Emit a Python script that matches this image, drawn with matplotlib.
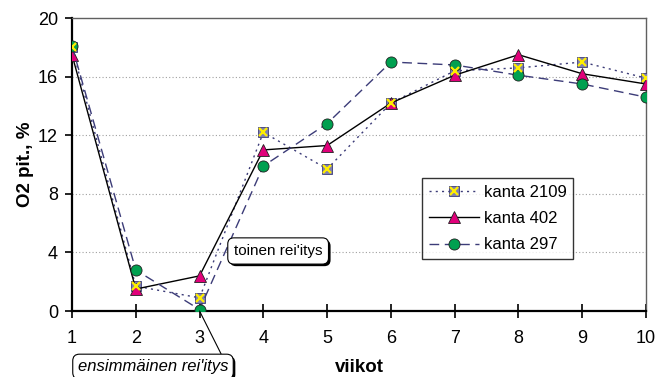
import matplotlib
matplotlib.use("Agg")
import matplotlib.pyplot as plt
from matplotlib.legend_handler import HandlerTuple
import matplotlib.patheffects as pe

plt.rcParams['font.family'] = ['Liberation Sans', 'DejaVu Sans']

# data
viikot = [1, 2, 3, 4, 5, 6, 7, 8, 9, 10]
kanta_2109 = [18.0, 1.7, 0.9, 12.2, 9.7, 14.2, 16.4, 16.6, 17.0, 15.9]
kanta_402 = [17.5, 1.5, 2.4, 11.0, 11.3, 14.2, 16.1, 17.5, 16.2, 15.5]
kanta_297 = [18.1, 2.8, 0.1, 9.9, 12.8, 17.0, 16.8, 16.1, 15.5, 14.6]
y_ticks = [0, 4, 8, 12, 16, 20]

navy = '#3c3c78'

fig = plt.figure(figsize=(6.57, 3.77), dpi=100)
ax = fig.add_axes([0.1096, 0.175, 0.8737, 0.777])

# pisteviiva-ruudukko
for yv in y_ticks[1:-1]:
    ax.axhline(yv, color='#a0a0a0', lw=0.8, ls=(0, (1, 2)), zorder=0)

l1, = ax.plot(viikot, kanta_2109, ls=(0, (1.5, 3)), color=navy, lw=1.0,
              marker='s', ms=7.5, mfc='#8080b0', mec=navy, mew=0.6, zorder=3)
x1, = ax.plot(viikot, kanta_2109, ls='none', marker='x', ms=6, mec='#ffee00',
              mew=1.6, zorder=4)
l2, = ax.plot(viikot, kanta_402, ls='-', color='black', lw=1.0,
              marker='^', ms=8, mfc='#e0007a', mec='#202020', mew=0.6, zorder=3)
l3, = ax.plot(viikot, kanta_297, ls=(0, (7, 4)), color=navy, lw=1.0,
              marker='o', ms=8, mfc='#00a050', mec='#202020', mew=0.6, zorder=3)

ax.set_xlim(1, 10)
ax.set_ylim(0, 20)
ax.set_xticks(viikot)
ax.set_yticks(y_ticks)
ax.tick_params(axis='x', direction='inout', length=10, width=1.2, labelsize=13, pad=9)
ax.tick_params(axis='y', direction='out', length=5, width=1.2, labelsize=13, pad=5)

for s in ['left', 'bottom']:
    ax.spines[s].set_linewidth(1.6)
    ax.spines[s].set_color('black')
for s in ['top', 'right']:
    ax.spines[s].set_linewidth(1.0)
    ax.spines[s].set_color('#606060')

ax.set_ylabel('O2 pit., %', fontsize=13.5, fontweight='bold', labelpad=3)
ax.set_xlabel('viikot', fontsize=13.5, fontweight='bold', labelpad=8)

leg = ax.legend([(l1, x1), l2, l3], ['kanta 2109', 'kanta 402', 'kanta 297'],
                handler_map={tuple: HandlerTuple(ndivide=1)},
                loc='upper left', bbox_to_anchor=(0.61, 0.454),
                fontsize=12, frameon=True, fancybox=False, edgecolor='black',
                handlelength=3.0, handletextpad=0.3, labelspacing=0.68,
                borderpad=0.4, borderaxespad=0)
leg.get_frame().set_linewidth(1.0)

shadow = [pe.SimplePatchShadow(offset=(1.5, -1.5), shadow_rgbFace='black', alpha=1.0), pe.Normal()]

t1 = ax.annotate("toinen rei'itys", xy=(0.282, 0.205), xycoords='axes fraction',
                 fontsize=11, ha='left', va='center',
                 bbox=dict(boxstyle='round,pad=0.4,rounding_size=0.4',
                           fc='white', ec='black', lw=0.8))
t1.get_bbox_patch().set_path_effects(shadow)

t2 = ax.annotate("ensimmäinen rei'itys", xy=(3, 0), xycoords='data',
                 xytext=(0.01, -0.19), textcoords='axes fraction',
                 fontsize=12, style='italic', ha='left', va='center',
                 annotation_clip=False,
                 arrowprops=dict(arrowstyle='-', color='black', lw=0.8,
                                 relpos=(0.97, 1.0), shrinkA=0, shrinkB=0),
                 bbox=dict(boxstyle='round,pad=0.3,rounding_size=0.4',
                           fc='white', ec='black', lw=0.8))
t2.get_bbox_patch().set_path_effects(shadow)

fig.savefig('out.png', dpi=100)
